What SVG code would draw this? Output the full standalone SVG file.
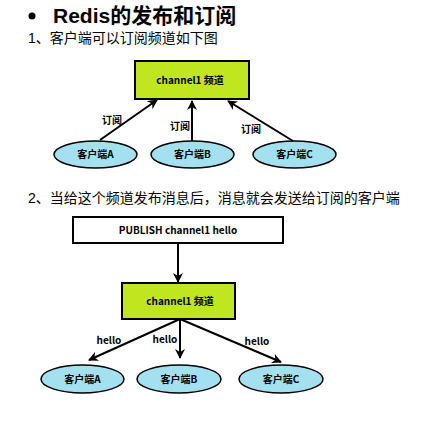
<svg xmlns="http://www.w3.org/2000/svg" width="427" height="426" viewBox="0 0 427 426">
<style>
.t{font-family:"Liberation Sans","Noto Sans CJK SC",sans-serif;fill:#000}
.h{font-size:14px}
.lbl{font-family:"Noto Sans CJK SC","Liberation Sans",sans-serif;font-size:10px;font-weight:bold;text-anchor:middle;fill:#000}
.box{fill:#bfe61e;stroke:#000;stroke-width:2}
.pub{fill:#fff;stroke:#000;stroke-width:2}
.ell{fill:#a3e0f0;stroke:#000;stroke-width:1.5}
.con{stroke:#000;stroke-width:2;fill:none;marker-end:url(#ah)}
</style>
<defs>
<marker id="ah" viewBox="0 0 10 10" refX="9" refY="5" markerWidth="5" markerHeight="5" orient="auto" markerUnits="strokeWidth">
<path d="M0,0 L10,5 L0,10 L3,5 z" fill="#000"/>
</marker>
</defs>
<rect width="427" height="426" fill="#fff"/>
<g id="title">
<circle cx="32" cy="16" r="3.5" fill="#000"/>
<text x="53" y="23" class="t" font-size="21" font-weight="bold">Redis的发布和订阅</text>
<text x="28" y="43" class="t h">1、客户端可以订阅频道如下图</text>
<text x="28" y="203" class="t h">2、当给这个频道发布消息后，消息就会发送给订阅的客户端</text>
</g>
<g id="connectors">
<line class="con" x1="100" y1="140" x2="157" y2="100"/>
<line class="con" x1="192" y1="141" x2="192" y2="101"/>
<line class="con" x1="293" y1="141" x2="228" y2="101"/>
<text class="lbl" x="112" y="124">订阅</text>
<text class="lbl" x="180" y="130">订阅</text>
<text class="lbl" x="251" y="133">订阅</text>
<line class="con" x1="178" y1="243" x2="178" y2="282"/>
<line class="con" x1="180" y1="319" x2="89" y2="360"/>
<line class="con" x1="180" y1="319" x2="180" y2="358"/>
<line class="con" x1="180" y1="319" x2="281" y2="362"/>
<text class="lbl" x="109" y="344">hello</text>
<text class="lbl" x="165" y="343">hello</text>
<text class="lbl" x="257" y="345">hello</text>
</g>
<g id="channel1">
<rect class="box" x="135" y="61" width="114" height="38"/>
<text class="lbl" x="190" y="84">channel1 频道</text>
</g>
<g id="clientA1"><ellipse class="ell" cx="95.5" cy="154.5" rx="41.5" ry="13.5"/><text class="lbl" x="95.5" y="158">客户端A</text></g>
<g id="clientB1"><ellipse class="ell" cx="192.5" cy="154.5" rx="41.5" ry="13.5"/><text class="lbl" x="192.5" y="158">客户端B</text></g>
<g id="clientC1"><ellipse class="ell" cx="294.5" cy="154.5" rx="41.5" ry="13.5"/><text class="lbl" x="294.5" y="158">客户端C</text></g>
<g id="publish">
<rect class="pub" x="73" y="217" width="210" height="26"/>
<text class="lbl" x="178" y="233.5">PUBLISH channel1 hello</text>
</g>
<g id="channel2">
<rect class="box" x="122" y="283" width="113" height="36"/>
<text class="lbl" x="180" y="305">channel1 频道</text>
</g>
<g id="clientA2"><ellipse class="ell" cx="82.5" cy="379" rx="41.5" ry="14"/><text class="lbl" x="82.5" y="382.5">客户端A</text></g>
<g id="clientB2"><ellipse class="ell" cx="179" cy="379" rx="42" ry="14"/><text class="lbl" x="179" y="382.5">客户端B</text></g>
<g id="clientC2"><ellipse class="ell" cx="281" cy="379" rx="42" ry="14"/><text class="lbl" x="281" y="382.5">客户端C</text></g>
</svg>
